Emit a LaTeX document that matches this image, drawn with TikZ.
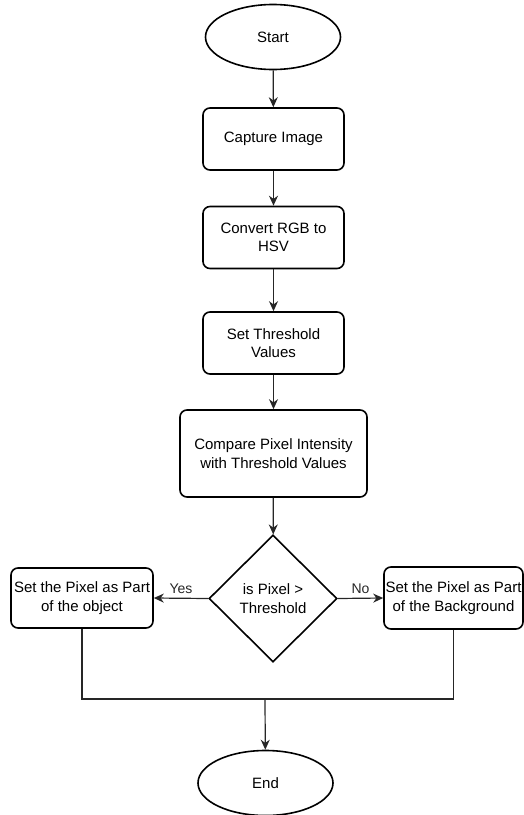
\documentclass[tikz,border=0pt]{standalone}
\usepackage{fontspec}
\setmainfont{Liberation Sans}
\usetikzlibrary{shapes.geometric,arrows.meta}
\tikzset{
  shapeline/.style={draw=black, line width=1.6pt, fill=white},
  term/.style={shapeline, ellipse, minimum width=135pt, minimum height=65pt, inner sep=0pt, font=\fontsize{15}{18}\selectfont},
  procbox/.style={shapeline, rectangle, rounded corners=7pt, minimum width=141pt, minimum height=62pt, inner sep=0pt, align=center, font=\fontsize{15}{18.5}\selectfont},
  decision/.style={shapeline, diamond, minimum width=128pt, minimum height=127pt, inner sep=0pt, align=center, font=\fontsize{15}{18.5}\selectfont},
  conn/.style={draw=black!85, line width=1.2pt},
  arr/.style={conn, -{Stealth[length=10pt,width=9pt]}},
  lbl/.style={font=\fontsize{14}{16}\selectfont, text=black!85}
}
\begin{document}
\begin{tikzpicture}[x=1pt, y=-1pt]
\useasboundingbox (0,0) rectangle (524,815);
\node[term] (start) at (273,37) {Start};
\node[procbox] (capture) at (273.5,139) {Capture Image};
\node[procbox] (convert) at (273.5,237.5) {Convert RGB to\\HSV};
\node[procbox] (thresh) at (273.5,343) {Set Threshold\\Values};
\node[procbox, minimum width=187pt, minimum height=87pt] (compare) at (273.5,453.5) {Compare Pixel Intensity\\with Threshold Values};
\node[decision] (dec) at (273,598.5) {is Pixel >\\Threshold};
\node[procbox, minimum width=142pt, minimum height=60pt] (obj) at (82,598) {Set the Pixel as Part\\of the object};
\node[procbox, minimum width=139pt, minimum height=62pt] (bg) at (453.5,598) {Set the Pixel as Part\\of the Background};
\node[term] (end) at (265.5,783) {End};
\coordinate (merge) at (265,699);

\draw[arr] (start) -- (capture);
\draw[arr] (capture) -- (convert);
\draw[arr] (convert) -- (thresh);
\draw[arr] (thresh) -- (compare);
\draw[arr] (compare) -- (dec);
\draw[arr] (dec.west) -- node[lbl, above=1pt] {Yes} (obj.east);
\draw[arr] (dec.east) -- node[lbl, above=1pt] {No} (bg.west);
\draw[conn] (obj.south) |- (merge) -| (bg.south);
\draw[arr] (merge) -- (end);
\end{tikzpicture}
\end{document}
